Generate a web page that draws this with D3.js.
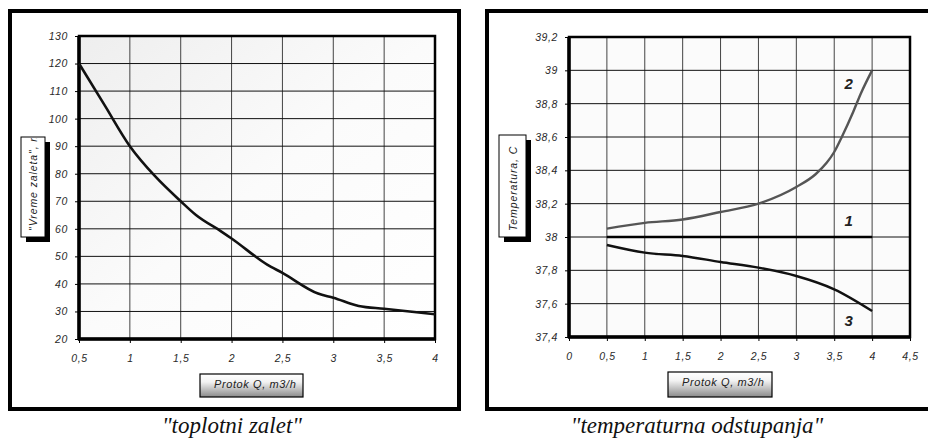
<!DOCTYPE html>
<html>
<head>
<meta charset="utf-8">
<script src="https://cdn.jsdelivr.net/npm/d3@7"></script>
<style>
	body { margin: 0; background: #fff; }
	svg { display: block; }
	.tick text { font-family: 'Liberation Sans', Arial, sans-serif; font-style: italic; font-size: 10.5px; fill: #2a2a2a; letter-spacing: 0.6px; }
	.caption { font-family: "Liberation Serif", "Times New Roman", serif; font-style: italic; font-size: 23px; fill: #111; }
</style>
</head>
<body>
<div id="chart"></div>
<script>
// left chart: "toplotni zalet"
const flowX = [0.5, 0.75, 1, 1.25, 1.5, 1.65, 1.9, 2, 2.35, 2.5, 2.85, 3, 3.25, 3.5, 4]
const warmupTime = [120, 105, 90, 79, 70, 65, 59, 56.5, 47, 44, 36.5, 35, 32, 31, 29]
const leftYTicks = [20, 30, 40, 50, 60, 70, 80, 90, 100, 110, 120, 130]
const leftXTicks = [0.5, 1, 1.5, 2, 2.5, 3, 3.5, 4]

// right chart: "temperaturna odstupanja"
const tempX = [0.5, 1, 1.5, 2, 2.5, 3, 3.25, 3.4, 3.5, 3.6, 3.75, 3.85, 4]
const temp1 = [38, 38, 38, 38, 38, 38, 38, 38, 38, 38, 38, 38, 38]
const temp2 = [38.05, 38.085, 38.105, 38.15, 38.2, 38.3, 38.375, 38.445, 38.51, 38.6, 38.75, 38.86, 39]
const temp3X = [0.5, 1, 1.5, 2, 2.5, 3, 3.5, 4]
const temp3 = [37.952, 37.906, 37.886, 37.85, 37.816, 37.766, 37.686, 37.556]
const rightYTicks = [37.4, 37.6, 37.8, 38, 38.2, 38.4, 38.6, 38.8, 39, 39.2]
const rightXTicks = [0, 0.5, 1, 1.5, 2, 2.5, 3, 3.5, 4, 4.5]

const fmt = d => String(d).replace('.', ',')
const sans = "'Liberation Sans', Arial, sans-serif"

const svg = d3.select('#chart').append('svg')
	.attr('width', 928)
	.attr('height', 440)

const defs = svg.append('defs')

const bgGrad = defs.append('linearGradient')
	.attr('id', 'plot-bg')
	.attr('x1', '0').attr('y1', '0').attr('x2', '1').attr('y2', '1')
bgGrad.append('stop').attr('offset', '0').attr('stop-color', '#eeeeee')
bgGrad.append('stop').attr('offset', '0.5').attr('stop-color', '#fbfbfb')
bgGrad.append('stop').attr('offset', '1').attr('stop-color', '#ffffff')

const boxGrad = defs.append('linearGradient')
	.attr('id', 'box-bg')
	.attr('x1', '0').attr('y1', '0').attr('x2', '0').attr('y2', '1')
boxGrad.append('stop').attr('offset', '0').attr('stop-color', '#ffffff')
boxGrad.append('stop').attr('offset', '0.35').attr('stop-color', '#f2f2f2')
boxGrad.append('stop').attr('offset', '1').attr('stop-color', '#8a8a8a')

function drawPanel(p) {
	const g = svg.append('g')

	// outer frame
	g.append('rect')
		.attr('x', p.frame[0]).attr('y', p.frame[1])
		.attr('width', p.frame[2]).attr('height', p.frame[3])
		.attr('fill', 'none')
		.attr('stroke', '#000')
		.attr('stroke-width', 4)

	const x = d3.scaleLinear().domain(p.xDomain).range([p.plot.left, p.plot.right])
	const y = d3.scaleLinear().domain(p.yDomain).range([p.plot.bottom, p.plot.top])

	g.append('rect')
		.attr('x', p.plot.left).attr('y', p.plot.top)
		.attr('width', p.plot.right - p.plot.left)
		.attr('height', p.plot.bottom - p.plot.top)
		.attr('fill', p.plotFill)

	// grid
	g.append('g').selectAll('line')
		.data(p.xTicks.slice(1, -1))
		.join('line')
		.attr('x1', d => x(d)).attr('x2', d => x(d))
		.attr('y1', p.plot.top).attr('y2', p.plot.bottom)
		.attr('stroke', '#444')
		.attr('stroke-width', 1)

	g.append('g').selectAll('line')
		.data(p.yTicks.slice(1, -1))
		.join('line')
		.attr('x1', p.plot.left).attr('x2', p.plot.right)
		.attr('y1', d => y(d)).attr('y2', d => y(d))
		.attr('stroke', '#111')
		.attr('stroke-width', 1)

	// axes
	const yAxis = g.append('g')
		.attr('transform', `translate(${p.plot.left},0)`)
		.call(d3.axisLeft(y).tickValues(p.yTicks).tickFormat(fmt).tickSize(4).tickPadding(p.yPad))
	const xAxis = g.append('g')
		.attr('transform', `translate(0,${p.plot.bottom})`)
		.call(d3.axisBottom(x).tickValues(p.xTicks).tickFormat(fmt).tickSize(4).tickPadding(p.xPad))
	yAxis.select('.domain').remove()
	xAxis.select('.domain').remove()
	g.selectAll('.tick line').attr('stroke', '#000')

	g.append('rect')
		.attr('x', p.plot.left).attr('y', p.plot.top)
		.attr('width', p.plot.right - p.plot.left)
		.attr('height', p.plot.bottom - p.plot.top)
		.attr('fill', 'none')
		.attr('stroke', '#000')
		.attr('stroke-width', 2.5)
	g.append('line')
		.attr('x1', p.plot.left).attr('x2', p.plot.left)
		.attr('y1', p.plot.top).attr('y2', p.plot.bottom + 1)
		.attr('stroke', '#000').attr('stroke-width', 3.5)
	g.append('line')
		.attr('x1', p.plot.left - 1).attr('x2', p.plot.right)
		.attr('y1', p.plot.bottom).attr('y2', p.plot.bottom)
		.attr('stroke', '#000').attr('stroke-width', 3.5)

	// series
	const line = d3.line()
		.x(d => x(d[0]))
		.y(d => y(d[1]))
		.curve(d3.curveMonotoneX)

	p.series.forEach(s => {
		g.append('path')
			.datum(d3.zip(s.x, s.y))
			.attr('d', line)
			.attr('fill', 'none')
			.attr('stroke', s.color)
			.attr('stroke-width', s.width)
			.attr('stroke-linejoin', 'round')
		if (s.label) {
			g.append('text')
				.attr('x', x(s.label[0])).attr('y', y(s.label[1]))
				.attr('text-anchor', 'middle')
				.attr('dominant-baseline', 'middle')
				.style('font-family', sans)
				.style('font-style', 'italic')
				.style('font-weight', 'bold')
				.style('font-size', '15px')
				.attr('fill', '#222')
				.text(s.label[2])
		}
	})

	// y axis title box (text clipped inside)
	const yb = p.yBox
	g.append('rect')
		.attr('x', yb.x + 5).attr('y', yb.y + 5)
		.attr('width', yb.w).attr('height', yb.h)
		.attr('fill', '#000')
	g.append('rect')
		.attr('x', yb.x).attr('y', yb.y)
		.attr('width', yb.w).attr('height', yb.h)
		.attr('fill', '#fff')
		.attr('stroke', '#000')
		.attr('stroke-width', 1)
	const clipId = 'clip-' + p.id
	defs.append('clipPath').attr('id', clipId)
		.append('rect')
		.attr('x', yb.x + 1).attr('y', yb.y + 1)
		.attr('width', yb.w - 2).attr('height', yb.h - 2)
	g.append('g')
		.attr('clip-path', `url(#${clipId})`)
		.append('text')
		.attr('transform', `translate(${yb.x + yb.w / 2 + 4},${yb.y + yb.h - 6}) rotate(-90)`)
		.style('font-family', sans)
		.style('font-style', 'italic')
		.style('font-size', '10.5px')
		.style('letter-spacing', '0.9px')
		.attr('fill', '#222')
		.text(p.yTitle)

	// x axis title box
	const xb = p.xBox
	g.append('rect')
		.attr('x', xb.x).attr('y', xb.y)
		.attr('width', xb.w).attr('height', xb.h)
		.attr('fill', 'url(#box-bg)')
		.attr('stroke', '#000')
		.attr('stroke-width', 1.2)
	g.append('text')
		.attr('x', xb.x + 14).attr('y', xb.y + 14)
		.style('font-family', sans)
		.style('font-style', 'italic')
		.style('font-size', '11px')
		.style('letter-spacing', '0.6px')
		.attr('fill', '#222')
		.text(p.xTitle)

	// caption
	g.append('text')
		.attr('class', 'caption')
		.attr('x', p.caption[0]).attr('y', p.caption[1])
		.attr('text-anchor', 'middle')
		.text(p.caption[2])
}

drawPanel({
	id: 'left',
	frame: [10, 11, 449, 398],
	plot: { left: 79, right: 435, top: 36, bottom: 339 },
	plotFill: 'url(#plot-bg)',
	xDomain: [0.5, 4],
	yDomain: [20, 130],
	xTicks: leftXTicks,
	yTicks: leftYTicks,
	xPad: 12,
	yPad: 7,
	series: [{ x: flowX, y: warmupTime, color: '#111', width: 2.6 }],
	yBox: { x: 21, y: 137, w: 24, h: 100 },
	yTitle: '"Vreme zaleta", min',
	xBox: { x: 200, y: 374, w: 103, h: 23 },
	xTitle: 'Protok Q, m3/h',
	caption: [232, 433, '"toplotni zalet"']
})

drawPanel({
	id: 'right',
	frame: [487, 11, 470, 398],
	plot: { left: 569, right: 910, top: 37, bottom: 337 },
	plotFill: '#fbfbfb',
	xDomain: [0, 4.5],
	yDomain: [37.4, 39.2],
	xTicks: rightXTicks,
	yTicks: rightYTicks,
	xPad: 12,
	yPad: 7,
	series: [
		{ x: tempX, y: temp1, color: '#000', width: 2.6, label: [3.69, 38.09, '1'] },
		{ x: tempX, y: temp2, color: '#555', width: 2.4, label: [3.69, 38.91, '2'] },
		{ x: temp3X, y: temp3, color: '#111', width: 2.4, label: [3.69, 37.49, '3'] }
	],
	yBox: { x: 499, y: 135, w: 27, h: 102 },
	yTitle: 'Temperatura, C',
	xBox: { x: 668, y: 372, w: 104, h: 25 },
	xTitle: 'Protok Q, m3/h',
	caption: [697, 433, '"temperaturna odstupanja"']
})
</script>
</body>
</html>
